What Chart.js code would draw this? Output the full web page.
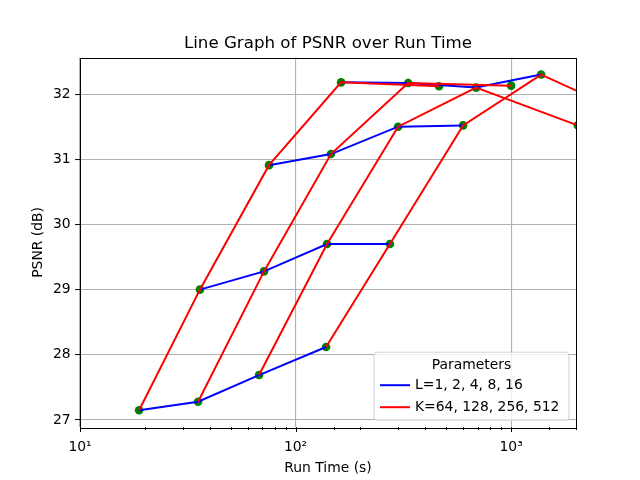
<!DOCTYPE html>
<html>
<head>
<meta charset="utf-8">
<script src="https://cdn.jsdelivr.net/npm/chart.js@4/dist/chart.umd.min.js"></script>
<style>
  html, body { margin: 0; padding: 0; background: #fff; }
  #wrap { width: 640px; height: 480px; }
</style>
</head>
<body>
<div id="wrap"><canvas id="chart" width="640" height="480"></canvas></div>
<script>
// run time (s) per L row, across K=64, 128, 256, 512 (+ one more point)
const runTimeL1 = [18.8, 36.0, 75.3, 162.6, 463];
const runTimeL2 = [35.3, 71.4, 146, 333, 1000];
const runTimeL4 = [67.7, 140, 299, 688, 2040];
const runTimeL8 = [138.5, 274, 599, 1378, 4000];

// PSNR (dB), same layout
const psnrL1 = [27.15, 29.00, 30.91, 32.18, 32.12];
const psnrL2 = [27.28, 29.28, 31.08, 32.17, 32.13];
const psnrL4 = [27.69, 29.70, 31.50, 32.10, 31.52];
const psnrL8 = [28.12, 29.70, 31.52, 32.30, 31.60];

const runTimes = [runTimeL1, runTimeL2, runTimeL4, runTimeL8];
const psnrs = [psnrL1, psnrL2, psnrL4, psnrL8];

const xTickMajors = [10, 100, 1000];
const yTicks = [27, 28, 29, 30, 31, 32];
const chartTitle = 'Line Graph of PSNR over Run Time';
const legendTitle = 'Parameters';
const legendLabels = ['L=1, 2, 4, 8, 16', 'K=64, 128, 256, 512'];
const legendColors = ['#0000ff', '#ff0000'];

const FONT = "'DejaVu Sans', sans-serif";
Chart.defaults.font.family = FONT;
Chart.defaults.color = '#000';

const datasets = [];

// blue: fixed K, varying L (first 4 K columns)
for (let k = 0; k < 4; k++) {
    datasets.push({
        data: runTimes.map((row, i) => ({ x: row[k], y: psnrs[i][k] })),
        showLine: true,
        borderColor: '#0000ff',
        borderWidth: 2,
        pointRadius: 0,
        pointHoverRadius: 0,
        clip: 0,
        order: 2
    });
}

// red: fixed L, varying K
for (let i = 0; i < runTimes.length; i++) {
    datasets.push({
        data: runTimes[i].map((t, k) => ({ x: t, y: psnrs[i][k] })),
        showLine: true,
        borderColor: '#ff0000',
        borderWidth: 2,
        pointRadius: 0,
        pointHoverRadius: 0,
        clip: 0,
        order: 1
    });
}

// green markers under the lines
const allPoints = [];
runTimes.forEach((row, i) => row.forEach((t, k) => allPoints.push({ x: t, y: psnrs[i][k] })));
datasets.push({
    data: allPoints,
    showLine: false,
    pointRadius: 4.3,
    pointBackgroundColor: '#008000',
    pointBorderColor: '#008000',
    pointBorderWidth: 0,
    clip: 0,
    order: 3
});

const isMajor = v => xTickMajors.includes(Math.round(v));
const supers = { 1: '\u00b9', 2: '\u00b2', 3: '\u00b3' };

const decorations = {
    id: 'decorations',
    afterDraw(chart) {
        const { ctx, chartArea: a } = chart;
        const xs = chart.scales.x;
        ctx.save();

        // title centred over the plot area
        ctx.fillStyle = '#000';
        ctx.font = '16.67px ' + FONT;
        ctx.textAlign = 'center';
        ctx.textBaseline = 'middle';
        ctx.fillText(chartTitle, (a.left + a.right) / 2, 43.5);

        // x tick marks (major longer than minor)
        ctx.strokeStyle = '#000';
        ctx.lineWidth = 1;
        xs.ticks.forEach(t => {
            const px = Math.round(xs.getPixelForValue(t.value)) + 0.5;
            const len = isMajor(t.value) ? 4.9 : 2.8;
            ctx.beginPath();
            ctx.moveTo(px, a.bottom);
            ctx.lineTo(px, a.bottom + len);
            ctx.stroke();
        });
        // frame
        ctx.strokeRect(Math.round(a.left) + 0.5, Math.round(a.top) + 0.5,
            Math.round(a.width), Math.round(a.height));

        // legend box, lower right
        const w = 195, h = 68;
        const bx = a.right - 7 - w, by = a.bottom - 7 - h;
        const r = 3;
        ctx.beginPath();
        ctx.moveTo(bx + r, by);
        ctx.arcTo(bx + w, by, bx + w, by + h, r);
        ctx.arcTo(bx + w, by + h, bx, by + h, r);
        ctx.arcTo(bx, by + h, bx, by, r);
        ctx.arcTo(bx, by, bx + w, by, r);
        ctx.closePath();
        ctx.fillStyle = 'rgba(255,255,255,0.8)';
        ctx.fill();
        ctx.strokeStyle = '#d0d0d0';
        ctx.stroke();

        ctx.fillStyle = '#000';
        ctx.font = '13.9px ' + FONT;
        ctx.textBaseline = 'middle';
        ctx.textAlign = 'center';
        ctx.fillText(legendTitle, bx + w / 2, by + 13);
        ctx.textAlign = 'left';
        legendLabels.forEach((lab, i) => {
            const y = by + 33 + i * 22;
            ctx.strokeStyle = legendColors[i];
            ctx.lineWidth = 2;
            ctx.beginPath();
            ctx.moveTo(bx + 6, y);
            ctx.lineTo(bx + 36, y);
            ctx.stroke();
            ctx.fillText(lab, bx + 41, y);
        });
        ctx.restore();
    }
};

new Chart(document.getElementById('chart'), {
    type: 'scatter',
    data: { datasets },
    options: {
        responsive: false,
        animation: false,
        devicePixelRatio: 1,
        layout: { padding: { left: 0, right: 64, top: 57.6, bottom: 0 } },
        plugins: {
            legend: { display: false },
            tooltip: { enabled: false },
            title: { display: false }
        },
        scales: {
            x: {
                type: 'logarithmic',
                min: 10,
                max: 2000,
                afterFit: s => { s.height = 52.8; },
                border: { display: false },
                grid: {
                    drawTicks: false,
                    color: c => (c.tick && isMajor(c.tick.value)) ? '#b0b0b0' : 'rgba(0,0,0,0)',
                    lineWidth: 1.1
                },
                ticks: {
                    autoSkip: false,
                    maxRotation: 0,
                    padding: 12,
                    font: { size: 13.9 },
                    callback: v => isMajor(v) ? '10' + supers[Math.round(Math.log10(v))] : ''
                },
                title: {
                    display: true,
                    text: 'Run Time (s)',
                    font: { size: 13.9 },
                    padding: { top: 0, bottom: 3 }
                }
            },
            y: {
                min: 26.89,
                max: 32.56,
                afterFit: s => { s.width = 80; },
                afterBuildTicks: s => { s.ticks = yTicks.map(v => ({ value: v })); },
                border: { display: false },
                grid: {
                    color: '#b0b0b0',
                    lineWidth: 1.1,
                    drawTicks: true,
                    tickLength: 4.9,
                    tickColor: '#000',
                    tickWidth: 1
                },
                ticks: {
                    padding: 4.5,
                    font: { size: 13.9 }
                },
                title: {
                    display: true,
                    text: 'PSNR (dB)',
                    font: { size: 13.9 },
                    padding: { top: 30, bottom: 0 }
                }
            }
        }
    },
    plugins: [decorations]
});
</script>
</body>
</html>
